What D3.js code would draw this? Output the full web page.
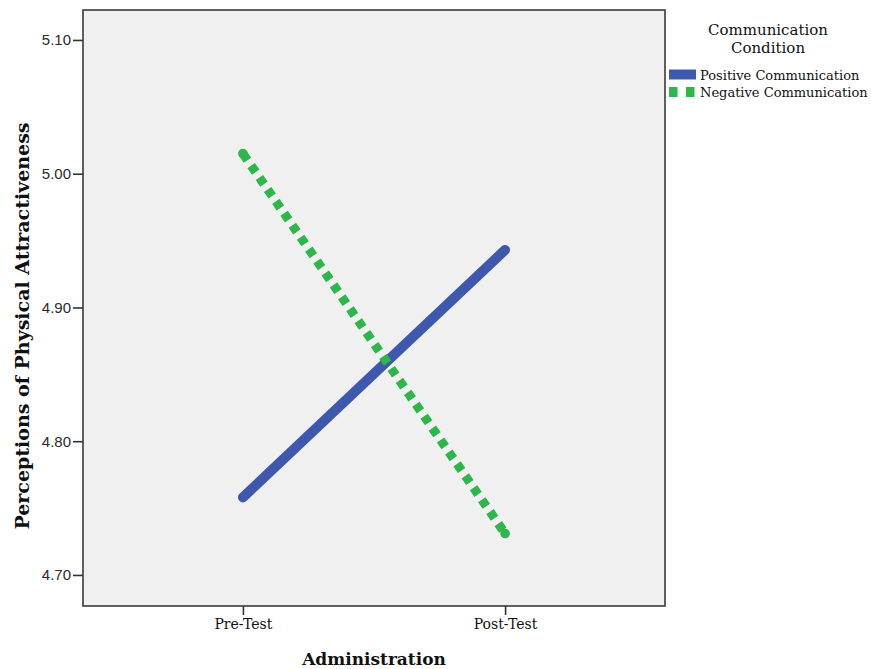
<!DOCTYPE html>
<html>
<head>
<meta charset="utf-8">
<script src="https://cdn.jsdelivr.net/npm/d3@7"></script>
<style>
    body { margin: 0; background: #fff; }
    svg { display: block; }
</style>
</head>
<body>
<div id="chart"></div>
<script>
const administration = ["Pre-Test", "Post-Test"];
const conditions = ["Positive Communication", "Negative Communication"];
const positiveMeans = [4.758, 4.943];
const negativeMeans = [5.015, 4.731];
const yTicks = [4.70, 4.80, 4.90, 5.00, 5.10];

const dim = { width: 871, height: 669 };
const plot = { left: 83, top: 10, right: 665, bottom: 606 };

const blue = "#3e58ad";
const green = "#2db64a";
const serif = "'DejaVu Serif', serif";

const svg = d3.select("#chart").append("svg")
    .attr("width", dim.width)
    .attr("height", dim.height);

const xScale = d3.scalePoint()
    .domain(administration)
    .range([plot.left, plot.right])
    .padding(0.61);

const yScale = d3.scaleLinear()
    .domain([4.6768, 5.1224])
    .range([plot.bottom, plot.top]);

// plot background
svg.append("rect")
    .attr("x", plot.left)
    .attr("y", plot.top)
    .attr("width", plot.right - plot.left)
    .attr("height", plot.bottom - plot.top)
    .attr("fill", "#f0f0f0")
    .attr("stroke", "#3a3a3a")
    .attr("stroke-width", 1.6);

// y axis
const yAxis = svg.append("g")
    .attr("transform", `translate(${plot.left},0)`)
    .call(d3.axisLeft(yScale).tickValues(yTicks).tickFormat(d3.format(".2f")).tickSize(10).tickPadding(2));
yAxis.select(".domain").remove();
yAxis.selectAll(".tick line").attr("stroke", "#333").attr("stroke-width", 1.6);
yAxis.selectAll(".tick text")
    .attr("fill", "#2a2a2a")
    .style("font-family", "'Liberation Sans', Arial, sans-serif")
    .style("font-size", "15px");

// x axis
const xAxis = svg.append("g")
    .attr("transform", `translate(0,${plot.bottom})`)
    .call(d3.axisBottom(xScale).tickSize(9).tickPadding(4));
xAxis.select(".domain").remove();
xAxis.selectAll(".tick line").attr("stroke", "#333").attr("stroke-width", 1.6);
xAxis.selectAll(".tick text")
    .attr("fill", "#111")
    .style("font-family", serif)
    .style("font-size", "14px");

// axis titles
svg.append("text")
    .attr("x", (plot.left + plot.right) / 2)
    .attr("y", 665)
    .attr("text-anchor", "middle")
    .style("font-family", serif)
    .style("font-weight", "bold")
    .style("font-size", "17px")
    .attr("fill", "#111")
    .text("Administration");

svg.append("text")
    .attr("transform", "translate(29,326) rotate(-90)")
    .attr("text-anchor", "middle")
    .style("font-family", serif)
    .style("font-weight", "bold")
    .style("font-size", "19px")
    .attr("fill", "#111")
    .text("Perceptions of Physical Attractiveness");

// lines
const line = d3.line()
    .x((d, i) => xScale(administration[i]))
    .y(d => yScale(d));

svg.append("path")
    .datum(positiveMeans)
    .attr("d", line)
    .attr("fill", "none")
    .attr("stroke", blue)
    .attr("stroke-width", 10)
    .attr("stroke-linecap", "round");

svg.append("path")
    .datum(negativeMeans)
    .attr("d", line)
    .attr("fill", "none")
    .attr("stroke", green)
    .attr("stroke-width", 9)
    .attr("stroke-dasharray", "8,6.5");

svg.selectAll(".negEnd")
    .data(negativeMeans)
    .enter().append("circle")
    .attr("class", "negEnd")
    .attr("cx", (d, i) => xScale(administration[i]))
    .attr("cy", d => yScale(d))
    .attr("r", 4.8)
    .attr("fill", green);

// legend
const legend = svg.append("g");
legend.append("text")
    .attr("x", 768)
    .attr("y", 35)
    .attr("text-anchor", "middle")
    .style("font-family", serif)
    .style("font-size", "15px")
    .attr("fill", "#111")
    .text("Communication");
legend.append("text")
    .attr("x", 768)
    .attr("y", 53)
    .attr("text-anchor", "middle")
    .style("font-family", serif)
    .style("font-size", "15px")
    .attr("fill", "#111")
    .text("Condition");

legend.append("line")
    .attr("x1", 669).attr("x2", 696)
    .attr("y1", 74.5).attr("y2", 74.5)
    .attr("stroke", blue)
    .attr("stroke-width", 10);
legend.append("line")
    .attr("x1", 669).attr("x2", 696)
    .attr("y1", 92).attr("y2", 92)
    .attr("stroke", green)
    .attr("stroke-width", 10)
    .attr("stroke-dasharray", "8.5,8.5");

legend.selectAll(".legendLabel")
    .data(conditions)
    .enter().append("text")
    .attr("class", "legendLabel")
    .attr("x", 700)
    .attr("y", (d, i) => 80 + i * 17)
    .style("font-family", serif)
    .style("font-size", "13px")
    .attr("fill", "#111")
    .text(d => d);
</script>
</body>
</html>
